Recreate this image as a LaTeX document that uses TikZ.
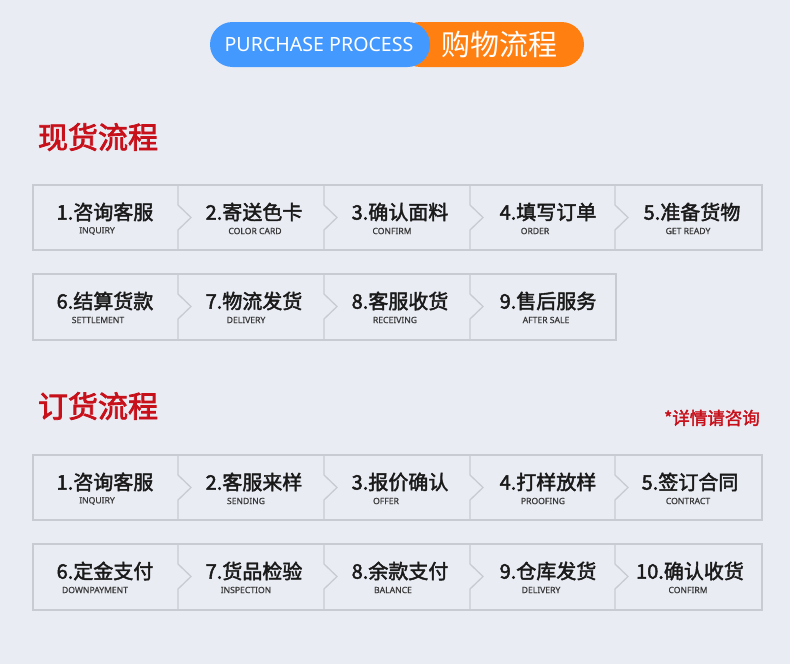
\documentclass[tikz,border=0pt]{standalone}
\usepackage{fontspec}
\setmainfont{Noto Sans}
\newfontfamily\cjk{Noto Sans CJK SC}
\newfontfamily\cjkmed[FakeBold=2.2]{Noto Sans CJK SC}
\newfontfamily\cjktitle[FakeBold=2.5]{Noto Sans CJK SC}
\newfontfamily\subfont[FakeBold=0.8]{Noto Sans}
\definecolor{bgc}{HTML}{EAECF4}
\definecolor{boxline}{HTML}{C9CBD2}
\definecolor{pillblue}{HTML}{4499FF}
\definecolor{pillorange}{HTML}{FF7F10}
\definecolor{titlered}{HTML}{C8101A}
\definecolor{maintext}{HTML}{1A1A1A}
\definecolor{subtext}{HTML}{3A3A3A}
\tikzset{
  stepframe/.style={draw=boxline, line width=1.3pt, line join=miter},
  mainlbl/.style={font=\cjkmed\fontsize{20}{22}\selectfont, text=maintext, inner sep=0pt, anchor=center},
  sublbl/.style={font=\subfont\fontsize{8.6}{9}\selectfont, text=subtext, inner sep=0pt, anchor=center},
  sectitle/.style={font=\cjktitle\fontsize{30}{32}\selectfont, text=titlered, inner sep=0pt, anchor=center},
}
\newcommand{\chev}[3]{% x, top, bottom
  \draw[stepframe] (#1,#2) -- (#1,#2+20) -- (#1+13,#2+32.5) -- (#1,#2+45) -- (#1,#3);}
\begin{document}
\begin{tikzpicture}[x=1pt,y=-1pt]
\fill[bgc] (0,0) rectangle (790,664);
\useasboundingbox (0,0) rectangle (790,664);
% header pill
\fill[pillorange, rounded corners=22.5pt] (398,22) rectangle (584,67);
\fill[pillblue, rounded corners=22.5pt] (210,22) rectangle (430,67);
\node[font=\fontsize{19.6}{21}\selectfont, text=white, inner sep=0pt] (hen) at (319,44.5) {PURCHASE PROCESS};
\node[font=\cjk\fontsize{29}{31}\selectfont, text=white, inner sep=0pt] (hcn) at (499.5,44.5) {购物流程};
% section titles
\node[sectitle] (t1) at (98,137) {现货流程};
\node[sectitle] (t2) at (98,406) {订货流程};
\node[font=\cjkmed\fontsize{17.5}{19}\selectfont, text=titlered, inner sep=0pt, anchor=east] (note) at (760,418) {*详情请咨询};
% row frames
\draw[stepframe] (33,185) rectangle (762,250);
\chev{178}{185}{250}\chev{324}{185}{250}\chev{470}{185}{250}\chev{615}{185}{250}
\draw[stepframe] (33,274) rectangle (616,340);
\chev{178}{274}{340}\chev{324}{274}{340}\chev{470}{274}{340}
\draw[stepframe] (33,455) rectangle (762,520);
\chev{178}{455}{520}\chev{324}{455}{520}\chev{470}{455}{520}\chev{615}{455}{520}
\draw[stepframe] (33,544) rectangle (762,610);
\chev{178}{544}{610}\chev{324}{544}{610}\chev{470}{544}{610}\chev{615}{544}{610}
% row 1
\node[mainlbl] (a1) at (105,212) {1.咨询客服};
\node[sublbl]  (a1s) at (97,231) {INQUIRY};
\node[mainlbl] (a2) at (254,212) {2.寄送色卡};
\node[sublbl]  (a2s) at (255,231) {COLOR CARD};
\node[mainlbl] (a3) at (400,212) {3.确认面料};
\node[sublbl]  (a3s) at (392,231) {CONFIRM};
\node[mainlbl] (a4) at (548,212) {4.填写订单};
\node[sublbl]  (a4s) at (535,231) {ORDER};
\node[mainlbl] (a5) at (692,212) {5.准备货物};
\node[sublbl]  (a5s) at (688,231) {GET READY};
% row 2
\node[mainlbl] (b1) at (105,301) {6.结算货款};
\node[sublbl]  (b1s) at (98,320) {SETTLEMENT};
\node[mainlbl] (b2) at (254,301) {7.物流发货};
\node[sublbl]  (b2s) at (246,320) {DELIVERY};
\node[mainlbl] (b3) at (400,301) {8.客服收货};
\node[sublbl]  (b3s) at (395,320) {RECEIVING};
\node[mainlbl] (b4) at (548,301) {9.售后服务};
\node[sublbl]  (b4s) at (546,320) {AFTER SALE};
% row 3
\node[mainlbl] (c1) at (105,482) {1.咨询客服};
\node[sublbl]  (c1s) at (97,501) {INQUIRY};
\node[mainlbl] (c2) at (254,482) {2.客服来样};
\node[sublbl]  (c2s) at (246,501) {SENDING};
\node[mainlbl] (c3) at (400,482) {3.报价确认};
\node[sublbl]  (c3s) at (386,501) {OFFER};
\node[mainlbl] (c4) at (548,482) {4.打样放样};
\node[sublbl]  (c4s) at (543,501) {PROOFING};
\node[mainlbl] (c5) at (690,482) {5.签订合同};
\node[sublbl]  (c5s) at (688,501) {CONTRACT};
% row 4
\node[mainlbl] (d1) at (105,571) {6.定金支付};
\node[sublbl]  (d1s) at (95,590) {DOWNPAYMENT};
\node[mainlbl] (d2) at (254,571) {7.货品检验};
\node[sublbl]  (d2s) at (246,590) {INSPECTION};
\node[mainlbl] (d3) at (400,571) {8.余款支付};
\node[sublbl]  (d3s) at (393,590) {BALANCE};
\node[mainlbl] (d4) at (548,571) {9.仓库发货};
\node[sublbl]  (d4s) at (541,590) {DELIVERY};
\node[mainlbl] (d5) at (690,571) {10.确认收货};
\node[sublbl]  (d5s) at (688,590) {CONFIRM};
\end{tikzpicture}
\end{document}
